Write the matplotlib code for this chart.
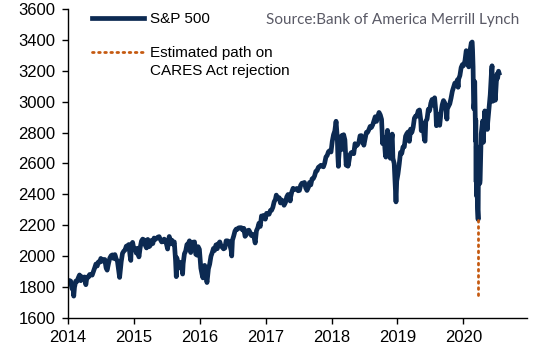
import matplotlib
matplotlib.use("Agg")
import matplotlib.pyplot as plt
import matplotlib.dates as mdates
import pandas as pd

plt.rcParams['font.family'] = ['Liberation Sans', 'DejaVu Sans']

# S&P 500 closes (approximate)
dates = [
    "2014-01-03", "2014-01-10", "2014-01-17", "2014-01-24", "2014-01-31", "2014-02-03", "2014-02-07", "2014-02-14",
    "2014-02-21", "2014-02-28", "2014-03-07", "2014-03-14", "2014-03-21", "2014-03-28", "2014-04-04", "2014-04-11",
    "2014-04-17", "2014-04-25", "2014-05-02", "2014-05-09", "2014-05-16", "2014-05-23", "2014-05-30", "2014-06-06",
    "2014-06-13", "2014-06-20", "2014-06-27", "2014-07-03", "2014-07-11", "2014-07-18", "2014-07-25", "2014-08-01",
    "2014-08-07", "2014-08-15", "2014-08-22", "2014-08-29", "2014-09-05", "2014-09-12", "2014-09-19", "2014-09-26",
    "2014-10-03", "2014-10-10", "2014-10-15", "2014-10-17", "2014-10-24", "2014-10-31", "2014-11-07", "2014-11-14",
    "2014-11-21", "2014-11-28", "2014-12-05", "2014-12-12", "2014-12-16", "2014-12-19", "2014-12-26", "2014-12-31",
    "2015-01-09", "2015-01-16", "2015-01-23", "2015-01-30", "2015-02-06", "2015-02-13", "2015-02-20", "2015-02-27",
    "2015-03-06", "2015-03-13", "2015-03-20", "2015-03-27", "2015-04-02", "2015-04-10", "2015-04-17", "2015-04-24",
    "2015-05-01", "2015-05-08", "2015-05-15", "2015-05-22", "2015-05-29", "2015-06-05", "2015-06-12", "2015-06-19",
    "2015-06-26", "2015-07-02", "2015-07-08", "2015-07-10", "2015-07-17", "2015-07-24", "2015-07-31", "2015-08-07",
    "2015-08-14", "2015-08-21", "2015-08-25", "2015-08-28", "2015-09-04", "2015-09-11", "2015-09-18", "2015-09-25",
    "2015-09-29", "2015-10-02", "2015-10-09", "2015-10-16", "2015-10-23", "2015-10-30", "2015-11-06", "2015-11-13",
    "2015-11-20", "2015-11-27", "2015-12-04", "2015-12-11", "2015-12-18", "2015-12-24", "2015-12-31",
    "2016-01-08", "2016-01-15", "2016-01-20", "2016-01-22", "2016-01-29", "2016-02-05", "2016-02-11", "2016-02-19",
    "2016-02-26", "2016-03-04", "2016-03-11", "2016-03-18", "2016-03-24", "2016-04-01", "2016-04-08", "2016-04-15",
    "2016-04-22", "2016-04-29", "2016-05-06", "2016-05-13", "2016-05-20", "2016-05-27", "2016-06-03", "2016-06-10",
    "2016-06-17", "2016-06-24", "2016-06-27", "2016-07-01", "2016-07-08", "2016-07-15", "2016-07-22", "2016-07-29",
    "2016-08-05", "2016-08-12", "2016-08-19", "2016-08-26", "2016-09-02", "2016-09-09", "2016-09-16", "2016-09-23",
    "2016-09-30", "2016-10-07", "2016-10-14", "2016-10-21", "2016-10-28", "2016-11-04", "2016-11-11", "2016-11-18",
    "2016-11-25", "2016-12-02", "2016-12-09", "2016-12-16", "2016-12-23", "2016-12-30",
    "2017-01-06", "2017-01-13", "2017-01-20", "2017-01-27", "2017-02-03", "2017-02-10", "2017-02-17", "2017-02-24",
    "2017-03-01", "2017-03-10", "2017-03-17", "2017-03-24", "2017-03-31", "2017-04-07", "2017-04-13", "2017-04-21",
    "2017-04-28", "2017-05-05", "2017-05-12", "2017-05-17", "2017-05-19", "2017-05-26", "2017-06-02", "2017-06-09",
    "2017-06-16", "2017-06-23", "2017-06-30", "2017-07-07", "2017-07-14", "2017-07-21", "2017-07-28", "2017-08-04",
    "2017-08-11", "2017-08-18", "2017-08-25", "2017-09-01", "2017-09-08", "2017-09-15", "2017-09-22", "2017-09-29",
    "2017-10-06", "2017-10-13", "2017-10-20", "2017-10-27", "2017-11-03", "2017-11-10", "2017-11-17", "2017-11-24",
    "2017-12-01", "2017-12-08", "2017-12-15", "2017-12-22", "2017-12-29",
    "2018-01-05", "2018-01-12", "2018-01-19", "2018-01-26", "2018-02-02", "2018-02-05", "2018-02-08", "2018-02-09",
    "2018-02-16", "2018-02-23", "2018-02-26", "2018-03-02", "2018-03-09", "2018-03-16", "2018-03-23", "2018-03-29",
    "2018-04-02", "2018-04-06", "2018-04-13", "2018-04-20", "2018-04-27", "2018-05-04", "2018-05-11", "2018-05-18",
    "2018-05-25", "2018-06-01", "2018-06-08", "2018-06-15", "2018-06-22", "2018-06-29", "2018-07-06", "2018-07-13",
    "2018-07-20", "2018-07-27", "2018-08-03", "2018-08-10", "2018-08-17", "2018-08-24", "2018-08-31", "2018-09-07",
    "2018-09-14", "2018-09-21", "2018-09-28", "2018-10-05", "2018-10-11", "2018-10-12", "2018-10-19", "2018-10-26",
    "2018-10-29", "2018-11-02", "2018-11-07", "2018-11-09", "2018-11-16", "2018-11-23", "2018-11-30", "2018-12-03",
    "2018-12-07", "2018-12-14", "2018-12-21", "2018-12-24", "2018-12-28", "2018-12-31",
    "2019-01-04", "2019-01-11", "2019-01-18", "2019-01-25", "2019-02-01", "2019-02-08", "2019-02-15", "2019-02-22",
    "2019-03-01", "2019-03-08", "2019-03-15", "2019-03-22", "2019-03-29", "2019-04-05", "2019-04-12", "2019-04-18",
    "2019-04-26", "2019-05-03", "2019-05-10", "2019-05-13", "2019-05-17", "2019-05-24", "2019-05-31", "2019-06-03",
    "2019-06-07", "2019-06-14", "2019-06-21", "2019-06-28", "2019-07-05", "2019-07-12", "2019-07-19", "2019-07-26",
    "2019-08-02", "2019-08-05", "2019-08-09", "2019-08-16", "2019-08-23", "2019-08-30", "2019-09-06", "2019-09-13",
    "2019-09-20", "2019-09-27", "2019-10-02", "2019-10-04", "2019-10-11", "2019-10-18", "2019-10-25", "2019-11-01",
    "2019-11-08", "2019-11-15", "2019-11-22", "2019-11-29", "2019-12-03", "2019-12-06", "2019-12-13", "2019-12-20",
    "2019-12-27", "2019-12-31",
    "2020-01-03", "2020-01-10", "2020-01-17", "2020-01-24", "2020-01-31", "2020-02-07", "2020-02-14", "2020-02-19",
    "2020-02-21", "2020-02-24", "2020-02-25", "2020-02-27", "2020-02-28", "2020-03-03", "2020-03-04", "2020-03-06",
    "2020-03-09", "2020-03-10", "2020-03-12", "2020-03-13", "2020-03-16", "2020-03-17", "2020-03-18", "2020-03-20",
    "2020-03-23", "2020-03-24", "2020-03-26", "2020-03-27", "2020-04-01", "2020-04-03", "2020-04-08", "2020-04-09",
    "2020-04-14", "2020-04-17", "2020-04-21", "2020-04-24", "2020-04-29", "2020-05-01", "2020-05-08", "2020-05-13",
    "2020-05-15", "2020-05-22", "2020-05-29", "2020-06-05", "2020-06-08", "2020-06-11", "2020-06-12", "2020-06-19",
    "2020-06-23", "2020-06-26", "2020-07-02", "2020-07-06", "2020-07-09", "2020-07-14", "2020-07-17",
]
spx = [
    1831, 1842, 1838, 1790, 1782, 1741, 1797, 1838,
    1836, 1859, 1878, 1841, 1866, 1857, 1865, 1815,
    1864, 1863, 1881, 1878, 1877, 1900, 1924, 1949,
    1936, 1963, 1961, 1985, 1967, 1978, 1978, 1925,
    1909, 1955, 1988, 2003, 2008, 1985, 2010, 1982,
    1967, 1906, 1862, 1886, 1964, 2018, 2032, 2039,
    2064, 2068, 2075, 2002, 1972, 2071, 2089, 2059,
    2045, 2019, 2051, 1995, 2055, 2097, 2110, 2105,
    2071, 2053, 2108, 2061, 2067, 2102, 2081, 2117,
    2108, 2116, 2123, 2126, 2107, 2092, 2094, 2110,
    2101, 2076, 2046, 2077, 2127, 2079, 2104, 2078,
    2092, 1971, 1867, 1989, 1921, 1961, 1958, 1931,
    1884, 1951, 2015, 2033, 2075, 2079, 2099, 2023,
    2089, 2090, 2092, 2012, 2006, 2061, 2044,
    1922, 1880, 1859, 1907, 1940, 1880, 1829, 1918,
    1948, 1999, 2022, 2050, 2036, 2073, 2048, 2081,
    2092, 2065, 2057, 2047, 2052, 2099, 2099, 2096,
    2071, 2037, 2001, 2103, 2130, 2162, 2175, 2174,
    2183, 2184, 2184, 2169, 2180, 2128, 2139, 2165,
    2168, 2153, 2133, 2141, 2126, 2085, 2164, 2182,
    2213, 2192, 2260, 2258, 2264, 2239,
    2277, 2275, 2271, 2295, 2297, 2316, 2351, 2367,
    2395, 2372, 2378, 2344, 2363, 2355, 2329, 2348,
    2384, 2399, 2390, 2357, 2381, 2416, 2439, 2432,
    2433, 2438, 2423, 2425, 2459, 2472, 2472, 2477,
    2441, 2425, 2443, 2477, 2461, 2500, 2502, 2519,
    2549, 2553, 2575, 2581, 2588, 2582, 2578, 2602,
    2642, 2652, 2676, 2683, 2674,
    2743, 2786, 2810, 2873, 2762, 2649, 2581, 2620,
    2732, 2747, 2780, 2691, 2786, 2752, 2588, 2641,
    2582, 2604, 2656, 2670, 2670, 2663, 2728, 2713,
    2721, 2735, 2779, 2780, 2755, 2718, 2760, 2801,
    2802, 2819, 2840, 2833, 2850, 2875, 2902, 2872,
    2904, 2930, 2914, 2885, 2728, 2767, 2768, 2658,
    2641, 2723, 2814, 2781, 2736, 2633, 2760, 2790,
    2633, 2600, 2417, 2351, 2486, 2507,
    2532, 2596, 2671, 2665, 2707, 2708, 2776, 2793,
    2804, 2743, 2822, 2801, 2834, 2893, 2907, 2905,
    2940, 2946, 2881, 2812, 2860, 2826, 2752, 2744,
    2873, 2887, 2950, 2942, 2990, 3014, 2977, 3025,
    2932, 2844, 2919, 2889, 2847, 2926, 2979, 3007,
    2992, 2962, 2887, 2952, 2970, 2986, 3023, 3067,
    3093, 3120, 3110, 3141, 3093, 3146, 3169, 3221,
    3240, 3231,
    3235, 3265, 3330, 3295, 3225, 3328, 3380, 3386,
    3338, 3226, 3128, 2978, 2954, 3003, 3130, 2972,
    2746, 2882, 2480, 2711, 2386, 2529, 2398, 2305,
    2237, 2447, 2630, 2541, 2470, 2489, 2750, 2790,
    2846, 2875, 2737, 2837, 2940, 2831, 2930, 2820,
    2864, 2955, 3044, 3194, 3232, 3002, 3041, 3098,
    3131, 3009, 3130, 3180, 3152, 3197, 3185,
]

# estimated path if the CARES Act had been rejected
est_dates = ["2020-03-23", "2020-03-23"]
est_values = [2237, 1745]

x = pd.to_datetime(dates)
xe = pd.to_datetime(est_dates)

fig = plt.figure(figsize=(5.38, 3.58), dpi=100)
ax = fig.add_axes([0.126, 0.112, 0.854, 0.863])

ax.plot(x, spx, color='#0c2a52', lw=3.4, solid_joinstyle='round', label='S&P 500')
ax.plot(xe, est_values, color='#c55a11', lw=2.0, linestyle=(0, (0.6, 1.6)),
        dash_capstyle='round', label='Estimated path on\nCARES Act rejection')

ax.set_ylim(1600, 3600)
ax.set_yticks(range(1600, 3601, 200))
ax.set_xlim(pd.Timestamp("2014-01-01"), pd.Timestamp("2020-12-20"))
ax.xaxis.set_major_locator(mdates.YearLocator())
ax.xaxis.set_major_formatter(mdates.DateFormatter('%Y'))

for s in ['top', 'right']:
    ax.spines[s].set_visible(False)
for s in ['left', 'bottom']:
    ax.spines[s].set_linewidth(1.0)
ax.tick_params(axis='both', labelsize=12, length=4, width=1.0, direction='out', pad=5)

leg = ax.legend(loc='upper left', bbox_to_anchor=(0.04, 1.01), frameon=False,
                fontsize=11, handlelength=3.4, handletextpad=0.4, labelspacing=1.3,
                borderaxespad=0)
for t in leg.get_texts():
    t.set_linespacing(1.35)
# line up the dotted handle with the first line of its label
dot = leg.get_lines()[1]
dot.set_ydata([v + 7 for v in dot.get_ydata()])

fig.text(0.965, 0.944, 'Source:Bank of America Merrill Lynch', ha='right', va='center',
         fontsize=11, color='#5a5a66', family=['Lato', 'DejaVu Sans'])

fig.savefig('out.png', dpi=100)
